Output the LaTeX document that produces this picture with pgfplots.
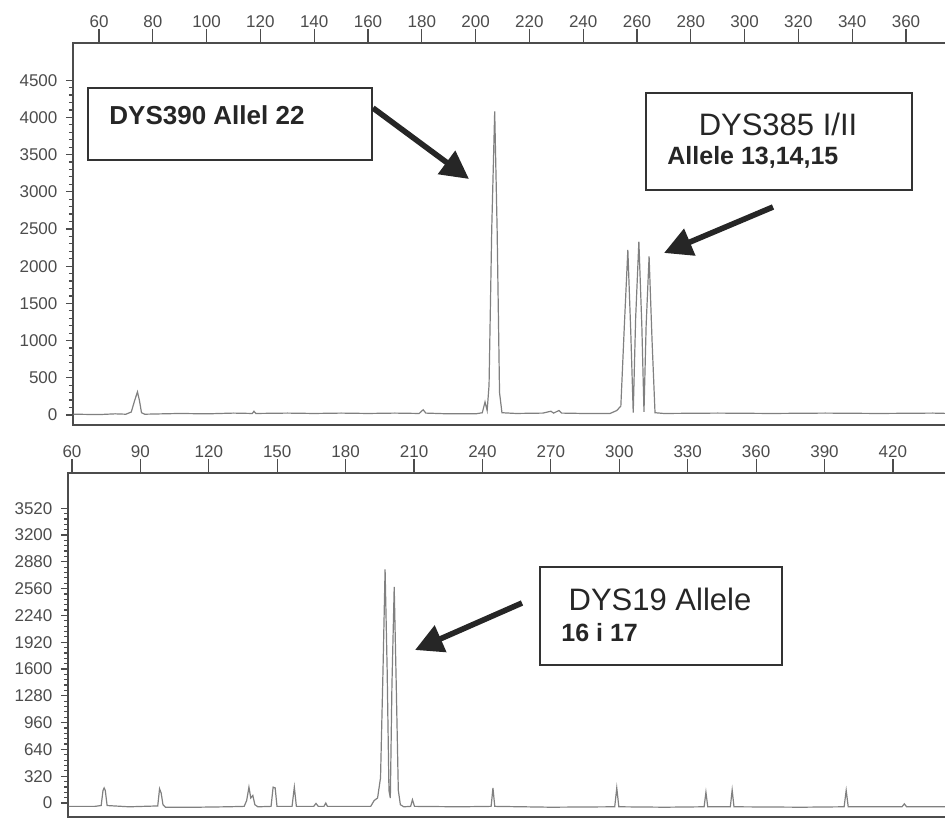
\documentclass[border=0pt]{standalone}
\usepackage{pgfplots}
\pgfplotsset{compat=1.18}
\usepackage{fontspec}
\setmainfont{Liberation Sans}
\usetikzlibrary{arrows.meta}
\definecolor{frame}{gray}{0.3}
\definecolor{trace}{gray}{0.5}
\pgfplotsset{
  epg/.style={
    anchor=south west, scale only axis,
    xtick pos=upper, ytick pos=left, tick align=outside,
    axis line style={draw=frame, line width=0.9pt},
    every tick/.append style={frame, line width=0.6pt},
    xtick style={/pgfplots/major tick length=7pt},
    ytick style={/pgfplots/major tick length=3.5pt},
    minor tick length=2pt,
    ticklabel style={font=\fontsize{8.5}{10}\selectfont, text=black!70},
    /pgf/number format/assume math mode=true,
    /pgf/number format/set thousands separator={},
    scaled ticks=false,
  },
  trace/.style={draw=trace, line width=0.6pt, no marks},
}
\begin{document}
\begin{tikzpicture}
\useasboundingbox (0,0) rectangle (472.5pt,409.5pt);
\clip (0,0) rectangle (472.5pt,409.5pt);
% ---------- top panel ----------
\begin{axis}[epg,
  at={(36.5pt,197pt)}, width=438pt, height=191pt,
  xmin=50.33, xmax=376, ymin=-135, ymax=5000,
  xtick={60,80,...,360}, ytick={0,500,...,4500},
  minor y tick num=4,
]
\addplot[trace] coordinates {
(50.5,10) (60,5) (66,15) (70,10) (72,40) (73.3,200) (74.3,310) (75.0,200) (75.8,30) (77,10)
(90,20) (100,15) (110,25) (117,20) (117.6,50) (118.3,20) (130,25) (140,20) (150,25) (160,20)
(170,25) (179,20) (180.5,70) (181.5,25) (190,15) (200,15) (202.5,30) (203.5,175) (204.3,60)
(205.0,400) (206.0,2500) (207.1,4080) (208.0,2500) (208.9,300) (209.8,30) (215,20) (225,25)
(228,50) (229,25) (231,60) (232,25) (240,20) (250,20) (252.5,60) (254,120) (255.3,1200)
(256.6,2220) (257.7,1100) (258.6,30) (259.5,1300) (260.7,2330) (261.8,1200) (262.6,40)
(263.4,1200) (264.5,2130) (265.6,1000) (266.7,30) (270,20) (290,25) (310,20) (330,25)
(350,20) (370,25) (376,20)
};
\draw[frame, line width=0.9pt] ([yshift=4pt]rel axis cs:0,1) -- ([yshift=4pt]rel axis cs:1,1);
\end{axis}
% ---------- bottom panel ----------
\begin{axis}[epg,
  at={(34pt,1pt)}, width=440.5pt, height=172pt,
  xmin=58.25, xmax=444.6, ymin=-167, ymax=3940,
  xtick={60,90,...,420}, ytick={0,320,...,3520},
  minor y tick num=4,
]
\addplot[trace] coordinates {
(58.5,-40) (70,-40) (72.8,-30) (73.6,150) (74.1,180) (74.6,150) (75.4,-30) (85,-45)
(97.6,-35) (98.4,170) (99.1,120) (99.9,-20) (101,-50) (115,-50) (128,-45) (135.5,-40)
(136.6,30) (137.6,190) (138.4,60) (139.3,90) (140.2,-20) (141.5,-45) (147.3,-40) (148.2,190)
(149.1,180) (149.9,-40) (156.5,-40) (157.5,190) (158.4,-40) (166,-40) (167,-5) (168,-40)
(170.5,-40) (171.3,0) (172,-40) (191,-40) (192.5,30) (194,60) (195.3,300) (196.4,1600)
(197.3,2790) (198.2,1600) (199,150) (199.6,60) (200.3,1400) (201.3,2580) (202.2,1400)
(203.1,150) (204,-20) (205.5,-45) (208.5,-40) (209.3,40) (210.2,-40) (230,-45) (243.8,-40)
(244.6,180) (245.4,-40) (270,-50) (298,-45) (298.9,180) (299.8,-45) (320,-50) (337.2,-45)
(338,130) (338.8,-45) (348.7,-45) (349.5,155) (350.3,-45) (380,-50) (398.6,-45) (399.5,150)
(400.4,-45) (424,-45) (425,-10) (426,-45) (444,-45)
};
\draw[frame, line width=0.9pt] ([yshift=3pt]rel axis cs:0,1) -- ([yshift=3pt]rel axis cs:1,1);
\end{axis}
% ---------- annotations (pixel coordinates, origin top-left) ----------
\begin{scope}[x=0.5pt, y=-0.5pt, yshift=409.5pt]
\tikzset{box/.style={draw=black!80, line width=1pt, fill=white},
         arr/.style={black!85, line width=2.8pt, -{Triangle[length=14pt,width=14pt]}}}
\draw[box] (88,88) rectangle (372,160);
\node[anchor=west, inner sep=0pt, text=black!85, font=\fontsize{13}{15}\selectfont\bfseries] at (109,115) {DYS390 Allel 22};
\draw[arr] (373,108) -- (469,179);

\draw[box] (646,93) rectangle (912,190);
\node[inner sep=0pt, text=black!85, font=\fontsize{15.5}{18}\selectfont] at (778,124) {DYS385 I/II};
\node[anchor=west, inner sep=0pt, text=black!85, font=\fontsize{12.5}{15}\selectfont\bfseries] at (667,157) {Allele 13,14,15};
\draw[arr] (773,207) -- (664,253);

\draw[box] (540,567) rectangle (782,665);
\node[inner sep=0pt, text=black!85, font=\fontsize{15.5}{18}\selectfont] at (660,599) {DYS19 Allele};
\node[anchor=west, inner sep=0pt, text=black!85, font=\fontsize{12.5}{15}\selectfont\bfseries] at (561,633) {16 i 17};
\draw[arr] (522,603) -- (415,650);
\end{scope}
\end{tikzpicture}
\end{document}
